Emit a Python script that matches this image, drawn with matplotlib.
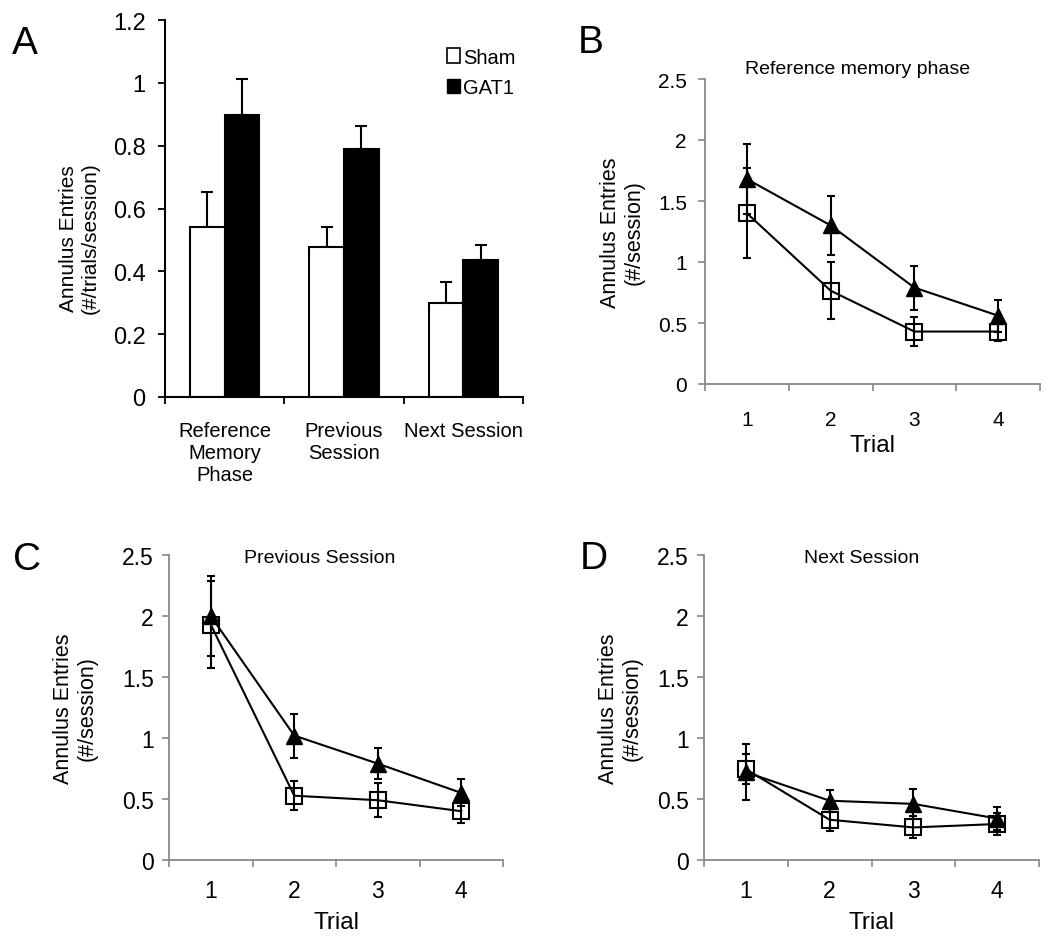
import matplotlib
matplotlib.use("Agg")
import matplotlib.pyplot as plt
from matplotlib.patches import Patch
import numpy as np

plt.rcParams['font.family'] = ['Liberation Sans', 'DejaVu Sans']

# Panel A data
categories = ["Reference\nMemory\nPhase", "Previous\nSession", "Next Session"]
sham_mean = [0.541, 0.477, 0.299]
sham_err = [0.112, 0.065, 0.066]
gat1_mean = [0.897, 0.790, 0.437]
gat1_err = [0.114, 0.074, 0.048]

# Line panels data
trials = [1, 2, 3, 4]
b_tri = [1.68, 1.30, 0.79, 0.56]
b_tri_err = [0.29, 0.24, 0.18, 0.13]
b_sq = [1.40, 0.765, 0.43, 0.43]
b_sq_err = [0.37, 0.235, 0.12, 0.08]

c_tri = [2.00, 1.02, 0.79, 0.55]
c_tri_err = [0.33, 0.18, 0.125, 0.11]
c_sq = [1.93, 0.527, 0.49, 0.40]
c_sq_err = [0.36, 0.12, 0.14, 0.10]

d_tri = [0.72, 0.486, 0.46, 0.34]
d_tri_err = [0.23, 0.09, 0.12, 0.095]
d_sq = [0.745, 0.33, 0.267, 0.295]
d_sq_err = [0.12, 0.093, 0.09, 0.09]

W, H = 1050, 945
fig = plt.figure(figsize=(W/100, H/100), dpi=100)

def ax_px(l, r, t, b):
    return fig.add_axes([l/W, 1 - b/H, (r-l)/W, (b-t)/H])

# ---------- Panel A ----------
axA = ax_px(165, 523, 21, 398)
x = np.arange(len(categories))
bw = 0.29
axA.bar(x - bw/2, sham_mean, bw, color='white', edgecolor='black', linewidth=1.5, zorder=2)
axA.bar(x + bw/2, gat1_mean, bw, color='black', edgecolor='black', linewidth=1.5, zorder=2)
axA.errorbar(x - bw/2, sham_mean, yerr=[np.zeros(3), sham_err], fmt='none', ecolor='black',
             elinewidth=1.5, capsize=4, capthick=1.5, zorder=1)
axA.errorbar(x + bw/2, gat1_mean, yerr=[np.zeros(3), gat1_err], fmt='none', ecolor='black',
             elinewidth=1.5, capsize=4, capthick=1.5, zorder=1)
axA.set_xlim(-0.5, 2.5)
axA.set_ylim(0, 1.2)
axA.set_yticks([0, 0.2, 0.4, 0.6, 0.8, 1.0, 1.2])
axA.set_yticklabels(['0', '0.2', '0.4', '0.6', '0.8', '1', '1.2'], fontsize=17)
axA.set_xticks([-0.5, 0.5, 1.5, 2.5], minor=False)
axA.set_xticklabels([])
axA.set_xticks(x, minor=True)
axA.set_xticklabels(categories, minor=True, fontsize=14.5, linespacing=1.2)
axA.tick_params(axis='x', which='minor', length=0, pad=17)
axA.tick_params(axis='x', which='major', length=5, width=1.3, direction='out')
axA.tick_params(axis='y', length=5, width=1.3, direction='out', pad=9)
for s in ['top', 'right']:
    axA.spines[s].set_visible(False)
for s in ['left', 'bottom']:
    axA.spines[s].set_linewidth(1.5)
axA.set_ylabel("Annulus Entries\n(#/trials/session)", fontsize=15)
axA.yaxis.set_label_coords(-0.182, 0.424)
handles = [Patch(facecolor='white', edgecolor='black', linewidth=1.2, label='Sham'),
           Patch(facecolor='black', edgecolor='black', label='GAT1')]
axA.legend(handles=handles, loc='upper right', bbox_to_anchor=(1.03, 0.975), frameon=False,
           fontsize=14.5, handlelength=0.65, handleheight=0.7, handletextpad=0.15, labelspacing=0.55)

# ---------- Line panels ----------
def line_panel(box, tri, tri_err, sq, sq_err, title, tick_fs, title_x, title_y, ylab_x,
               xpad, ypad, xlabpad):
    ax = ax_px(*box)
    ax.errorbar(trials, tri, yerr=tri_err, color='black', marker='^', markersize=11,
                markerfacecolor='black', markeredgecolor='black', linewidth=1.5,
                elinewidth=1.5, capsize=3, capthick=1.5, zorder=3)
    ax.errorbar(trials, sq, yerr=sq_err, color='black', marker='s', markersize=11,
                markerfacecolor='none', markeredgecolor='black', markeredgewidth=1.5,
                linewidth=1.5, elinewidth=1.5, capsize=3, capthick=1.5, zorder=3)
    ax.set_xlim(0.5, 4.5)
    ax.set_ylim(0, 2.5)
    ax.set_yticks([0, 0.5, 1, 1.5, 2, 2.5])
    ax.set_yticklabels(['0', '0.5', '1', '1.5', '2', '2.5'], fontsize=tick_fs)
    ax.set_xticks([0.5, 1.5, 2.5, 3.5, 4.5])
    ax.set_xticklabels([])
    ax.set_xticks(trials, minor=True)
    ax.set_xticklabels([str(t) for t in trials], minor=True, fontsize=tick_fs)
    ax.tick_params(axis='x', which='minor', length=0, pad=xpad)
    ax.tick_params(axis='x', which='major', length=5, width=1.2, color='#888888', direction='out')
    ax.tick_params(axis='y', length=5, width=1.2, color='#888888', direction='out', pad=ypad)
    for s in ['top', 'right']:
        ax.spines[s].set_visible(False)
    for s in ['left', 'bottom']:
        ax.spines[s].set_color('#888888')
        ax.spines[s].set_linewidth(1.3)
    ax.set_ylabel("Annulus Entries\n(#/session)", fontsize=15.5)
    ax.yaxis.set_label_coords(ylab_x, 0.5)
    ax.set_xlabel("Trial", fontsize=17.5, labelpad=xlabpad)
    ax.text(title_x, title_y, title, transform=ax.transAxes, fontsize=14,
            ha='center', va='center')
    return ax

axB = line_panel((705, 1040, 80, 385), b_tri, b_tri_err, b_sq, b_sq_err,
                 "Reference memory phase", 15, 0.455, 1.033, -0.179, 19, 8, 3)
axC = line_panel((169, 503, 556, 861), c_tri, c_tri_err, c_sq, c_sq_err,
                 "Previous Session", 16.5, 0.45, 0.993, -0.213, 14, 6, 6)
axD = line_panel((704, 1039, 556, 861), d_tri, d_tri_err, d_sq, d_sq_err,
                 "Next Session", 16.5, 0.47, 0.993, -0.182, 14, 6, 6)

# Panel letters
for lab, (px, py) in zip("ABCD", [(12, 44), (578, 43), (13, 560), (580, 559)]):
    fig.text(px/W, 1 - py/H, lab, fontsize=28, va='center', ha='left')

fig.savefig("out.png", dpi=100)
